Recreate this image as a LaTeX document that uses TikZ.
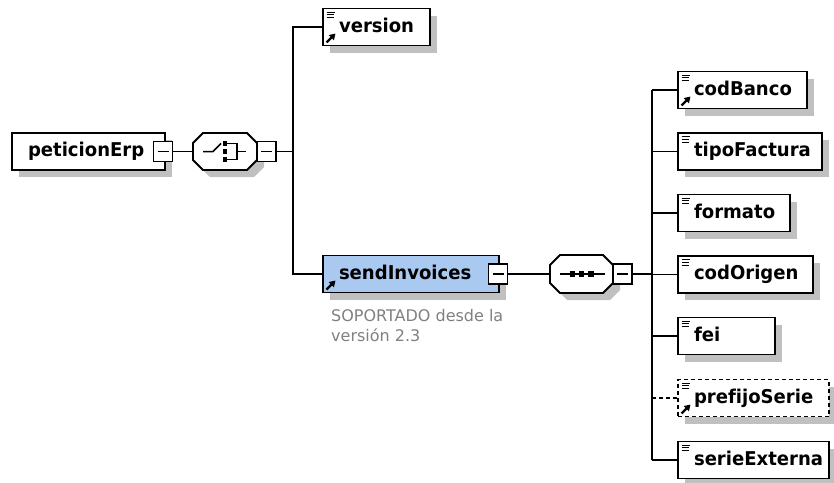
\documentclass[tikz,border=0pt]{standalone}
\usepackage{fontspec}
\setmainfont{DejaVu Sans}[Ligatures=NoCommon]
\newfontfamily\elemfont{DejaVu Sans}[FakeStretch=0.95, Ligatures=NoCommon]
\usetikzlibrary{shadows,arrows.meta,calc}
\definecolor{shd}{RGB}{192,192,192}
\definecolor{selblue}{RGB}{169,201,240}
\definecolor{notegray}{RGB}{128,128,128}
\tikzset{
  myshadow/.style={drop shadow={shadow xshift=7pt, shadow yshift=-7pt, fill=shd, opacity=1}},
  elem/.style={draw=black, line width=1.8pt, fill=white, anchor=west, minimum height=37pt,
    inner xsep=16pt, inner ysep=0pt, outer sep=0pt, align=left, text height=14pt, text depth=4pt,
    font=\elemfont\bfseries\fontsize{19}{19}\selectfont, myshadow},
  mbox/.style={draw=black, line width=1.6pt, fill=white, minimum width=19pt, minimum height=20pt,
    inner sep=0pt, outer sep=0pt},
  octn/.style={draw=none, inner sep=0pt, outer sep=0pt},
  conn/.style={draw=black, line width=1.7pt},
  note/.style={anchor=north west, inner sep=0pt, align=left, text=notegray,
    font=\fontsize{16}{20}\selectfont},
  dashedbox/.style={dash pattern=on 4pt off 3pt}
}
\newcommand\eqmark[1]{\draw[line width=1.1pt] ($(#1.north west)+(3.5,3.7)$) -- +(8.5,0)
  ($(#1.north west)+(3.5,6.4)$) -- +(7.5,0) ($(#1.north west)+(3.5,9.1)$) -- +(7.5,0);}
\newcommand\refmark[1]{\draw[line width=2.3pt, -{Triangle[length=6pt,width=7pt]}]
  ($(#1.south west)+(3.5,-3)$) -- +(9,-9);}
\newcommand\minusmark[1]{\draw[line width=1.6pt] ($(#1.center)+(-5.5,0)$) -- ($(#1.center)+(5.5,0)$);}
\newcommand\octa[1]{\draw[line width=1.8pt, fill=white, myshadow]
  ($(#1.north west)+(10,0)$) -- ($(#1.north east)+(-10,0)$) -- ($(#1.north east)+(0,10)$)
  -- ($(#1.south east)+(0,-10)$) -- ($(#1.south east)+(-10,0)$) -- ($(#1.south west)+(10,0)$)
  -- ($(#1.south west)+(0,-10)$) -- ($(#1.north west)+(0,10)$) -- cycle;}
\begin{document}
\begin{tikzpicture}[x=1pt,y=-1pt]
\useasboundingbox (0,0) rectangle (834,482);
% root
\node[elem, minimum width=153pt, text width=121pt] (pet) at (12,151.5) {peticionErp};
\node[mbox] (petm) at ($(pet.east)+(-2,0)$) {};
\minusmark{petm}
% choice
\node[octn, minimum width=64pt, minimum height=37pt] (ch) at (225,151.5) {};
\octa{ch}
\begin{scope}[shift={(ch.center)}]
  \draw[line width=1.5pt] (-22,0) -- (-12,0) -- (-4,-8);
  \fill (-2.2,-10.5) rectangle (2.2,-5.8);
  \fill (-2.2,-2.3) rectangle (2.2,2.3);
  \fill (-2.2,5.8) rectangle (2.2,10.5);
  \draw[line width=1.5pt] (2,-8) -- (12,-8) -- (12,8) -- (2,8);
  \draw[line width=1.5pt] (12,0) -- (21,0);
\end{scope}
\node[mbox, anchor=west] (chm) at (ch.east) {};
\minusmark{chm}
% first level children
\node[elem, minimum width=107pt, text width=75pt] (ver) at (323,27) {version};
\eqmark{ver}\refmark{ver}
\node[elem, fill=selblue, minimum width=176pt, text width=144pt] (send) at (323,274) {sendInvoices};
\refmark{send}
\node[mbox] (sendm) at ($(send.east)+(-1,0)$) {};
\minusmark{sendm}
\node[note] (nt) at (331,309) {SOPORTADO desde la\\versión 2.3};
% sequence
\node[octn, minimum width=63pt, minimum height=38pt] (sq) at (581.5,274) {};
\octa{sq}
\begin{scope}[shift={(sq.center)}]
  \draw[line width=1.5pt] (-21.5,0) -- (23.5,0);
  \fill (-11.5,-2.7) rectangle (-6.3,2.7);
  \fill (-2.3,-2.7) rectangle (2.9,2.7);
  \fill (6.8,-2.7) rectangle (12,2.7);
\end{scope}
\node[mbox, anchor=west] (sqm) at (sq.east) {};
\minusmark{sqm}
% second level children
\node[elem, minimum width=129pt, text width=97pt] (c1) at (678,90) {codBanco};
\eqmark{c1}\refmark{c1}
\node[elem, minimum width=144pt, text width=112pt] (c2) at (678,151.5) {tipoFactura};
\eqmark{c2}
\node[elem, minimum width=112pt, text width=80pt] (c3) at (678,213) {formato};
\eqmark{c3}
\node[elem, minimum width=135pt, text width=103pt] (c4) at (678,274.5) {codOrigen};
\eqmark{c4}
\node[elem, minimum width=97pt, text width=65pt] (c5) at (678,336) {fei};
\eqmark{c5}
\node[elem, dashedbox, minimum width=151pt, text width=119pt] (c6) at (678,398) {prefijoSerie};
\eqmark{c6}\refmark{c6}
\node[elem, minimum width=151pt, text width=119pt] (c7) at (678,460) {serieExterna};
\eqmark{c7}
% connectors
\coordinate (j1) at (293,151.5);
\coordinate (j2) at (652,274);
\draw[conn] (petm.east) -- (ch.west);
\draw[conn] (chm.east) -- (j1);
\draw[conn] (ver.west) -| (j1) |- (send.west);
\draw[conn] (sendm.east) -- (sq.west);
\draw[conn] (sqm.east) -- (j2);
\draw[conn] (j2 |- c1.west) -- (j2 |- c7.west);
\foreach \c in {c1,c2,c3,c4,c5,c7} { \draw[conn] (j2 |- \c.west) -- (\c.west); }
\draw[conn, dashedbox] (j2 |- c6.west) -- (c6.west);
\end{tikzpicture}
\end{document}
